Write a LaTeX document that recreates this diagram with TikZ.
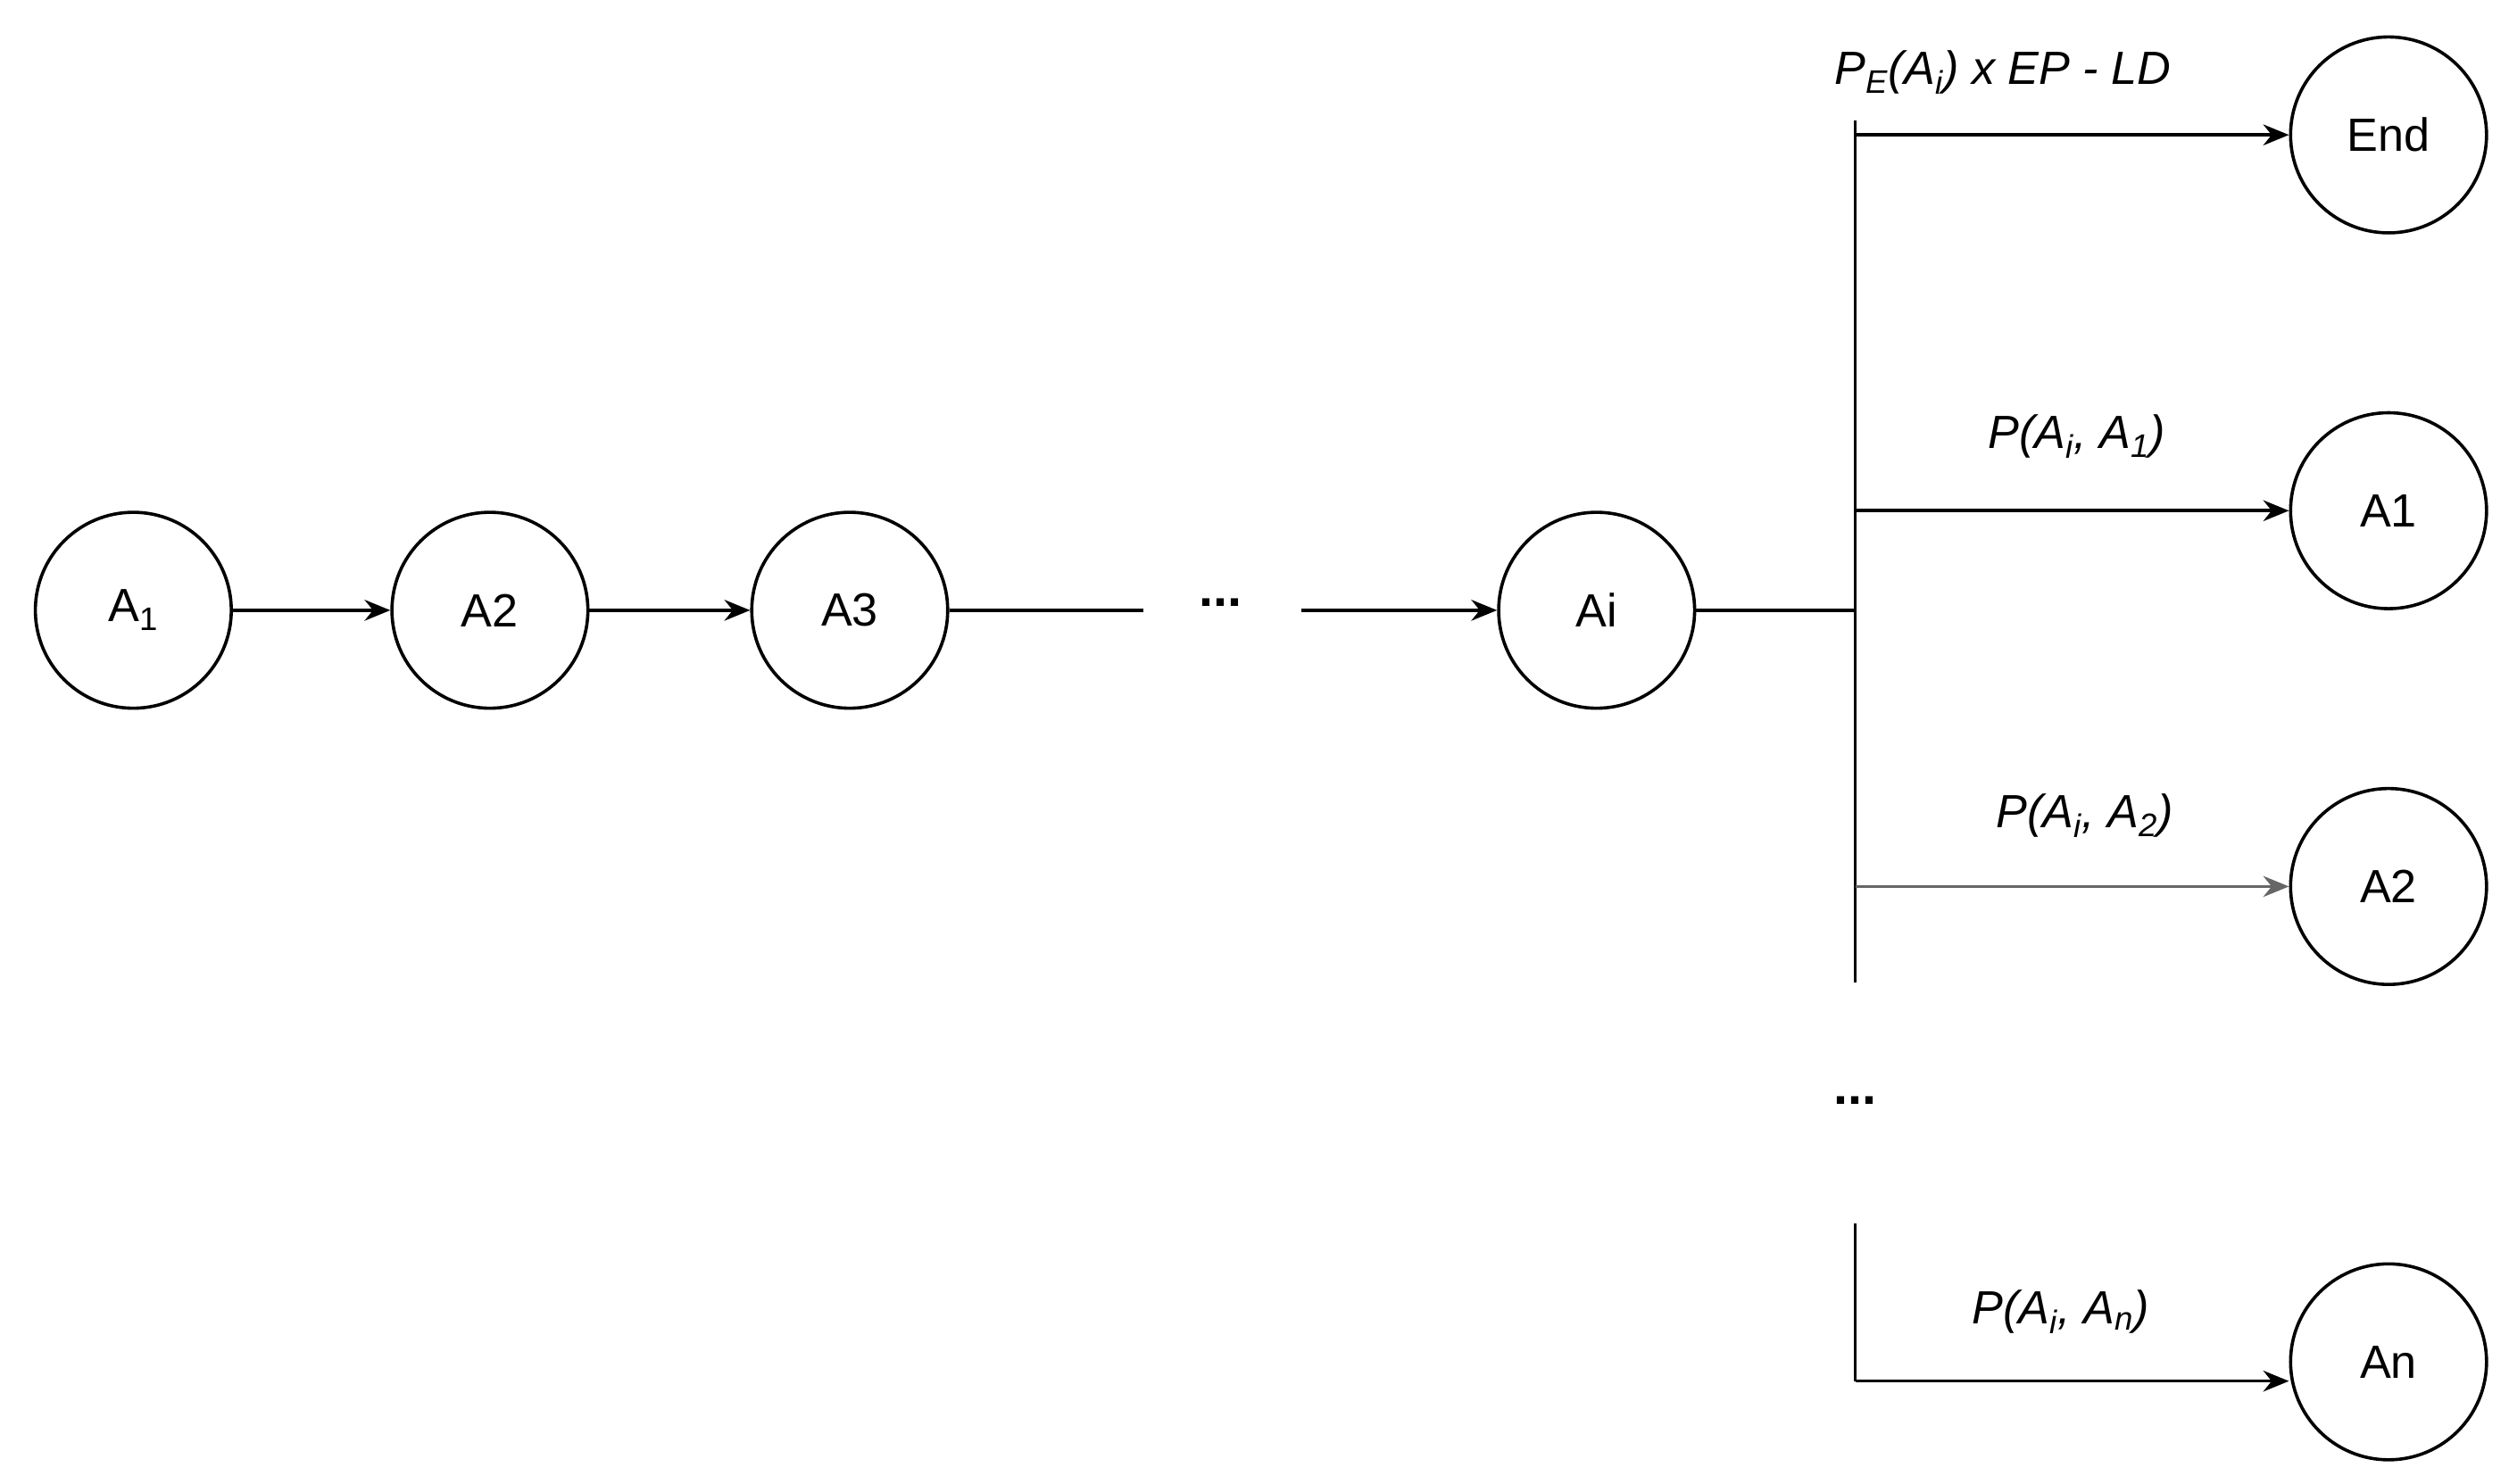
\documentclass[tikz,border=0pt]{standalone}
\usepackage{fontspec}
\setmainfont{Liberation Sans}
\usetikzlibrary{arrows.meta}
\begin{document}
\begin{tikzpicture}[x=1pt,y=-1pt,
  st/.style={circle,draw,line width=2pt,minimum size=122pt,inner sep=0pt,font=\fontsize{29}{34}\selectfont},
  ln/.style={line width=2pt},
  ar/.style={line width=2pt,-{Stealth[length=16pt,width=13pt]}},
  lb/.style={font=\fontsize{29}{34}\selectfont\itshape},
  dt/.style={font=\fontsize{32}{34}\selectfont\bfseries}]
\useasboundingbox (0,0) rectangle (1562,924);
\node[st] (a1) at (83,380) {A\textsubscript{1}};
\node[st] (a2) at (305,380) {A2};
\node[st] (a3) at (529,380) {A3};
\node[st] (ai) at (994,380) {Ai};
\node[st] (e) at (1487,84) {End};
\node[st] (b1) at (1487,318) {A1};
\node[st] (b2) at (1487,552) {A2};
\node[st] (bn) at (1487,848) {An};
\node[dt] (d1) at (760,375) {...};
\node[dt] (d2) at (1155,685) {...};
\coordinate (c1) at (712,380);
\coordinate (c2) at (810,380);
\coordinate (j) at (1155,380);
\coordinate (t) at (1155,75);
\coordinate (b) at (1155,612);
\coordinate (jt) at (1155,84);
\coordinate (j1) at (1155,318);
\coordinate (j2) at (1155,552);
\coordinate (n0) at (1155,762);
\coordinate (n1) at (1155,860);
\draw[ar] (a1) -- (a2);
\draw[ar] (a2) -- (a3);
\draw[ln] (a3) -- (c1);
\draw[ar] (c2) -- (ai);
\draw[ln] (ai) -- (j);
\draw[ln] (t) -- (b);
\draw[ar] (jt) -- (e.west);
\draw[ar] (j1) -- (b1.west);
\draw[ar,gray!80!black] (j2) -- (b2.west);
\draw[ln] (n0) -- (n1);
\draw[ar] (n1) -- (bn.west|-n1);
\node[lb] (l0) at (1247,45) {P\textsubscript{E}(A\textsubscript{i}) x EP - LD};
\node[lb] (l1) at (1293,272) {P(A\textsubscript{i}, A\textsubscript{1})};
\node[lb] (l2) at (1298,508) {P(A\textsubscript{i}, A\textsubscript{2})};
\node[lb] (l3) at (1283,817) {P(A\textsubscript{i}, A\textsubscript{n})};
\end{tikzpicture}
\end{document}
